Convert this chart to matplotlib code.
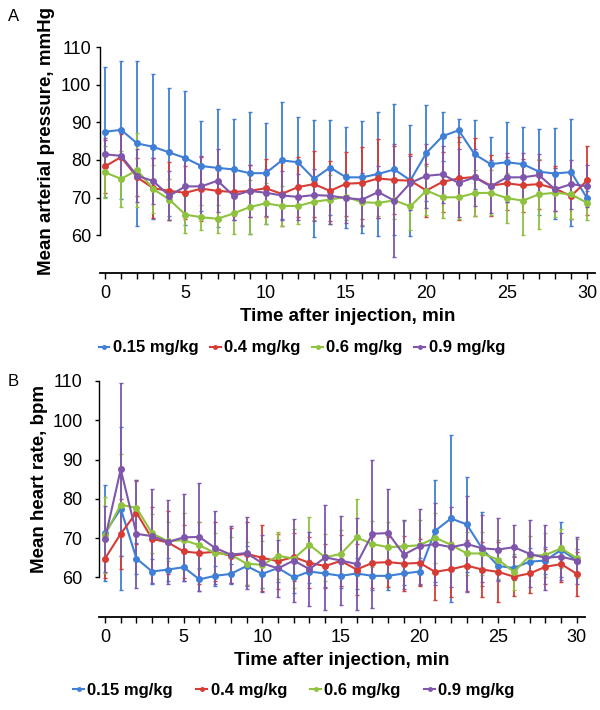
import numpy as np
import matplotlib
matplotlib.use("Agg")
import matplotlib.pyplot as plt
from matplotlib.lines import Line2D

plt.rcParams['font.family'] = ['Liberation Sans', 'DejaVu Sans']

time = list(range(31))
doses = ["0.15 mg/kg", "0.4 mg/kg", "0.6 mg/kg", "0.9 mg/kg"]
colors = ["#3f7fd5", "#d63c35", "#8fc23f", "#7f56ab"]

# Panel A: mean arterial pressure (mmHg)
map_015 = [87.5, 88, 84.4, 83.5, 82, 80.5, 78.4, 77.9, 77.5, 76.5, 76.5, 79.9, 79.4, 75, 78,
           75.4, 75.4, 76.3, 77.5, 74.6, 81.9, 86.3, 87.9, 81.5, 78.9, 79.4, 78.9, 76.9, 76.4, 76.8, 69.8]
map_015_err = [17.2, 18.3, 22, 19.2, 17, 17.7, 12, 15.6, 13.5, 16.2, 13.4, 15.6, 12, 15.5, 12.6,
               13.4, 14.9, 16.4, 17.5, 14.7, 12.7, 6.5, 3, 9.1, 7.2, 10.6, 9.9, 11.4, 12.1, 14.2, 2]
map_04 = [78.3, 80.8, 75.4, 72.5, 71.8, 71.3, 72.4, 71.8, 71.5, 71.8, 72.5, 71, 72.8, 73.6, 71.8,
          73.7, 73.9, 75.1, 74.7, 74.5, 71.9, 74.2, 75.1, 75.5, 73.2, 73.8, 73.3, 73.6, 72.4, 70.4, 74.6]
map_04_err = [7, 6, 5, 8, 7.7, 7, 8.5, 7, 6.5, 7, 7.7, 8.5, 8, 8.8, 8, 8.5, 9.5, 10.6, 9, 7, 7.1,
              8, 11, 10.4, 8, 7, 7, 6.5, 6, 6, 9.1]
map_06 = [76.7, 75, 77.3, 72.3, 69.5, 65.5, 64.8, 64.4, 65.8, 67.5, 68.5, 67.8, 67.8, 68.9, 69.5,
          70.2, 68.8, 68.6, 69.3, 67.7, 71.9, 70.1, 70.1, 71.2, 71.3, 69.9, 69.2, 70.9, 71.3, 70.9, 68.6]
map_06_err = [6.9, 7.5, 9.8, 6.5, 5.5, 5, 3.3, 3.7, 5.5, 7.2, 5.5, 5.3, 4.8, 4.9, 6.5, 6.2, 6, 3.6,
              5, 6.4, 6.5, 5.5, 5.7, 6.1, 6, 6.6, 9, 9.3, 6.5, 6.6, 4.6]
map_09 = [81.5, 81.1, 75.8, 74.4, 70.5, 73, 73, 74.5, 70.5, 71.8, 71.3, 70.6, 70.2, 70.7, 70.5,
          69.9, 69.5, 71.5, 69.2, 73.9, 75.8, 76.2, 73.9, 75.4, 73, 75.4, 75.4, 76, 72.2, 73.6, 73]
map_09_err = [4.3, 6, 7, 6, 6.5, 7, 8, 8.3, 6.5, 7, 6.3, 6.5, 6, 7, 7.5, 6.5, 7, 7, 15, 7.2, 8.5,
              7.6, 9, 7.5, 7, 6.5, 6.5, 5.6, 5.8, 6.5, 5.6]

# Panel B: mean heart rate (bpm)
hr_015 = [71.3, 77.5, 64.8, 61.5, 62, 62.6, 59.5, 60.4, 60.9, 62.9, 60.9, 62.4, 60, 61.5, 61,
          60.4, 61, 60.4, 60.4, 61, 61.5, 71.9, 75, 73.5, 67.2, 62.9, 62.4, 64, 64.3, 67, 64.3]
hr_015_err = [12.2, 20.7, 4, 3.2, 3, 3.5, 3, 2.5, 2.5, 5, 3.5, 3.5, 4, 3, 3.5, 3, 4, 3.5, 3.5, 3,
              3.5, 13, 21.2, 12.1, 9.4, 3.5, 3, 3.5, 3.5, 7, 3]
hr_04 = [64.8, 71.1, 76.5, 69.8, 68.9, 66.6, 66.2, 66.5, 65.5, 66, 65, 64.1, 65.2, 63.7, 62.9,
         64.2, 62, 63.7, 63.9, 63.5, 63.7, 61.4, 62.1, 63, 62, 61.4, 60.2, 61, 62.7, 63.4, 60.9]
hr_04_err = [5, 8.9, 8, 8.2, 8, 6.7, 8, 7.5, 7, 8, 8.4, 7, 6, 6.5, 5.5, 6.5, 6.5, 6.5, 6.4, 7, 6,
             7.2, 7, 6.5, 7.1, 7.6, 5, 5, 4.5, 4.5, 5.6]
hr_06 = [70.8, 78.5, 77.7, 71.2, 69.2, 69.5, 68.2, 66.2, 65.8, 63.5, 63.2, 65.5, 64.8, 68.3, 65.1,
         66, 70.2, 68.5, 67.7, 67.9, 68.2, 70.1, 68.3, 66.1, 66.1, 64.5, 61.4, 65.5, 65.7, 67.4, 64.9]
hr_06_err = [9.7, 13, 7, 5, 5, 7, 6, 5, 4.5, 5.5, 6, 6, 7.5, 7, 6, 6, 9.8, 5.8, 6.5, 6.5, 6.5,
             6.4, 6, 5.5, 5.5, 5, 4.5, 5, 5.5, 5, 5]
hr_09 = [69.8, 87.5, 71.1, 70.5, 69, 70.2, 70.3, 67.5, 65.8, 66.2, 63.6, 62.3, 64.3, 62.1, 65.1,
         64.3, 63.4, 71.1, 71.3, 65.8, 67.9, 68.5, 67.7, 68.5, 67.4, 67.1, 67.7, 66, 65, 65.3, 64.3]
hr_09_err = [8.3, 22.1, 13.8, 12, 10.7, 11.1, 13.8, 9.3, 7.2, 9.1, 7.2, 7.2, 10.5, 9.4, 13.4,
             11.3, 11.6, 18.8, 11.1, 8.7, 9.5, 10.5, 10.2, 12.2, 8.6, 7.9, 5.6, 8.5, 8.3, 6, 6]

map_series = [(map_015, map_015_err), (map_04, map_04_err), (map_06, map_06_err), (map_09, map_09_err)]
hr_series = [(hr_015, hr_015_err), (hr_04, hr_04_err), (hr_06, hr_06_err), (hr_09, hr_09_err)]

fig = plt.figure(figsize=(6, 7.1), dpi=100)
axA = fig.add_axes([0.167, 0.6155, 0.825, 0.3183])
axB = fig.add_axes([0.1645, 0.1314, 0.81, 0.332])


def draw(ax, series, ylabel, xlim, ypad, label_x, legend_xy, colsp):
    handles = []
    for (m, e), c, lab in zip(series, colors, doses):
        ax.errorbar(time, m, yerr=e, color=c, lw=1.5, elinewidth=1.3, capsize=1.5,
                    capthick=1.0, marker="o", ms=4)
        handles.append(Line2D([], [], color=c, lw=1.5, marker="o", ms=2.5, label=lab))
    ax.set_xlim(*xlim)
    ax.set_ylim(50, 110)
    ax.spines["top"].set_visible(False)
    ax.spines["right"].set_visible(False)
    ax.spines["left"].set_bounds(60, 110)
    ax.spines["left"].set_linewidth(1.0)
    ax.spines["bottom"].set_linewidth(1.3)
    ax.set_yticks([60, 70, 80, 90, 100, 110])
    ax.set_xticks(time)
    ax.set_xticklabels([str(t) if t % 5 == 0 else "" for t in time])
    ax.tick_params(axis="both", labelsize=13, direction="out", length=4, width=1.0)
    ax.tick_params(axis="y", length=3, pad=ypad)
    ax.tick_params(axis="x", pad=5)
    ax.set_xlabel("Time after injection, min", fontsize=13.5, fontweight="bold", labelpad=4)
    ax.set_ylabel(ylabel, fontsize=13.5, fontweight="bold")
    # centred on the drawn part of the y axis (60-110)
    ax.yaxis.set_label_coords(label_x, 35 / 60)
    fig.legend(handles=handles, loc="center", bbox_to_anchor=legend_xy, ncol=4,
               frameon=False, handlelength=0.65, handletextpad=0.2, columnspacing=colsp,
               prop={"weight": "bold", "size": 12}, borderaxespad=0)


draw(axA, map_series, "Mean arterial pressure, mmHg", (-0.3, 30.5), 3.6, -0.091, (0.503, 0.51), 0.7)
draw(axB, hr_series, "Mean heart rate, bpm", (-0.4, 30.5), 8.6, -0.104, (0.49, 0.028), 1.4)

fig.text(0.013, 0.977, "A", fontsize=12, va="center")
fig.text(0.013, 0.463, "B", fontsize=12, va="center")

fig.savefig("out.png", dpi=100)
